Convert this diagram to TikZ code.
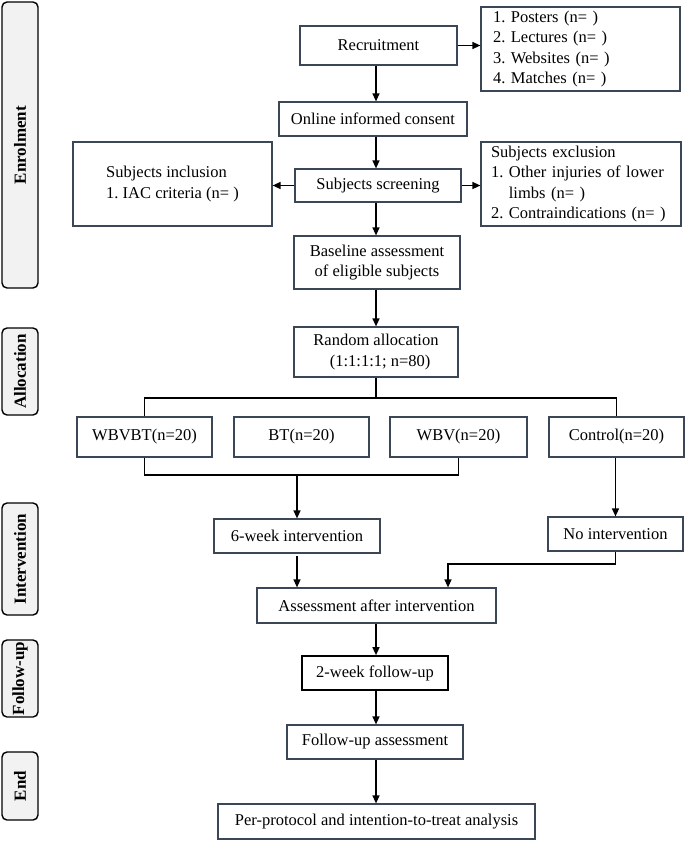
\documentclass[tikz,border=0pt]{standalone}
\usepackage{fontspec}
\setmainfont{Liberation Serif}
\usetikzlibrary{arrows.meta}
\definecolor{bd}{HTML}{3B4656}
\definecolor{sidefill}{HTML}{F2F2F2}
\frenchspacing
\begin{document}
\begin{tikzpicture}[x=1pt,y=-1pt,
 box/.style={draw=bd, line width=1.2pt, inner sep=0pt, font=\fontsize{16.5}{20.5}\selectfont\frenchspacing, align=center},
 side/.style={draw=black, fill=sidefill, rounded corners=5pt, line width=1.4pt, inner sep=0pt, rotate=90, font=\fontsize{17}{20}\selectfont\bfseries},
 conn/.style={line width=1.3pt, draw=black},
 arr/.style={conn, -{Triangle[length=8pt,width=7pt]}},
]
\fill[white] (0,0) rectangle (685,841);
\useasboundingbox (0,0) rectangle (685,841);

% side labels
\node[side, minimum width=286, minimum height=36] (sEnr) at (20,145) {Enrolment};
\node[side, minimum width=87, minimum height=36] (sAll) at (20,371.5) {Allocation};
\node[side, minimum width=112, minimum height=36] (sInt) at (20,559) {Intervention};
\node[side, minimum width=77, minimum height=36] (sFol) at (20,678.5) {Follow-up};
\node[side, minimum width=68, minimum height=36] (sEnd) at (20,786) {End};

% enrolment
\node[box, minimum width=157, minimum height=39] (rec) at (378.5,45.5) {Recruitment};
\node[box, minimum width=199, minimum height=84, text width=175, align=left] (post) at (580.5,49)
  {1. Posters (n= )\\2. Lectures (n= )\\3. Websites (n= )\\4. Matches (n= )};
\node[box, minimum width=188, minimum height=34] (cons) at (373,119) {Online informed consent};
\node[box, minimum width=166, minimum height=33] (scr) at (378,185.5) {Subjects screening};
\node[box, minimum width=199, minimum height=84] (inc) at (172.5,184)
  {\begin{tabular}{@{}l@{}}Subjects inclusion\\1. IAC criteria (n= )\end{tabular}};
\node[box, minimum width=200, minimum height=84, text width=180, align=left] (exc) at (581,184)
  {Subjects exclusion\\1. Other injuries of lower\\\phantom{1. }limbs (n= )\\2. Contraindications (n= )};
\node[box, minimum width=166, minimum height=53] (base) at (377,262.5) {Baseline assessment\\of eligible subjects};

% allocation
\node[box, minimum width=164, minimum height=50] (rand) at (376,352) {Random allocation\\\ \ (1:1:1:1; n=80)};
\node[box, minimum width=135, minimum height=40] (g1) at (144.5,437) {WBVBT(n=20)};
\node[box, minimum width=135, minimum height=40] (g2) at (301.5,437) {BT(n=20)};
\node[box, minimum width=137, minimum height=40] (g3) at (458.5,437) {WBV(n=20)};
\node[box, minimum width=135, minimum height=40] (g4) at (616.5,437) {Control(n=20)};

% intervention
\node[box, minimum width=166, minimum height=34] (six) at (297,536) {6-week intervention};
\node[box, minimum width=135, minimum height=34] (noint) at (615.5,534) {No intervention};
\node[box, minimum width=239, minimum height=35] (ass) at (376.5,605.5) {Assessment after intervention};

% follow-up & end
\node[box, draw=black, line width=1.7pt, minimum width=146, minimum height=34] (two) at (375,673) {2-week follow-up};
\node[box, minimum width=176, minimum height=34] (fua) at (375,742) {Follow-up assessment};
\node[box, minimum width=317, minimum height=35] (pp) at (376.5,821.5) {Per-protocol and intention-to-treat analysis};

% connectors
\coordinate (cx) at (376,0);
\coordinate (busA) at (0,398);
\coordinate (busB) at (0,475);
\coordinate (busC) at (448,564);

\draw[arr] (rec.south -| cx) -- (cons.north -| cx);
\draw[arr] (rec.east) -- (post.west |- rec.east);
\draw[arr] (cons.south -| cx) -- (scr.north -| cx);
\draw[arr] (scr.west) -- (inc.east |- scr.west);
\draw[arr] (scr.east) -- (exc.west |- scr.east);
\draw[arr] (scr.south -| cx) -- (base.north -| cx);
\draw[arr] (base.south -| cx) -- (rand.north -| cx);

\draw[conn] (rand.south -| cx) -- (busA -| cx);
\draw[conn] (g1.north) |- (busA -| g4.north) -- (g4.north);
\draw[conn] (g1.south) |- (busB -| g3.south) -- (g3.south);
\draw[arr] (busB -| six.north) -- (six.north);
\draw[arr] (g4.south -| noint.north) -- (noint.north);
\draw[arr] (noint.south) |- (busC) -- (busC |- ass.north);
\draw[arr, shorten <=2pt] (six.south) -- (six.south |- ass.north);
\draw[arr] (ass.south -| cx) -- (two.north -| cx);
\draw[arr] (two.south -| cx) -- (fua.north -| cx);
\draw[arr] (fua.south -| cx) -- (pp.north -| cx);
\end{tikzpicture}
\end{document}
